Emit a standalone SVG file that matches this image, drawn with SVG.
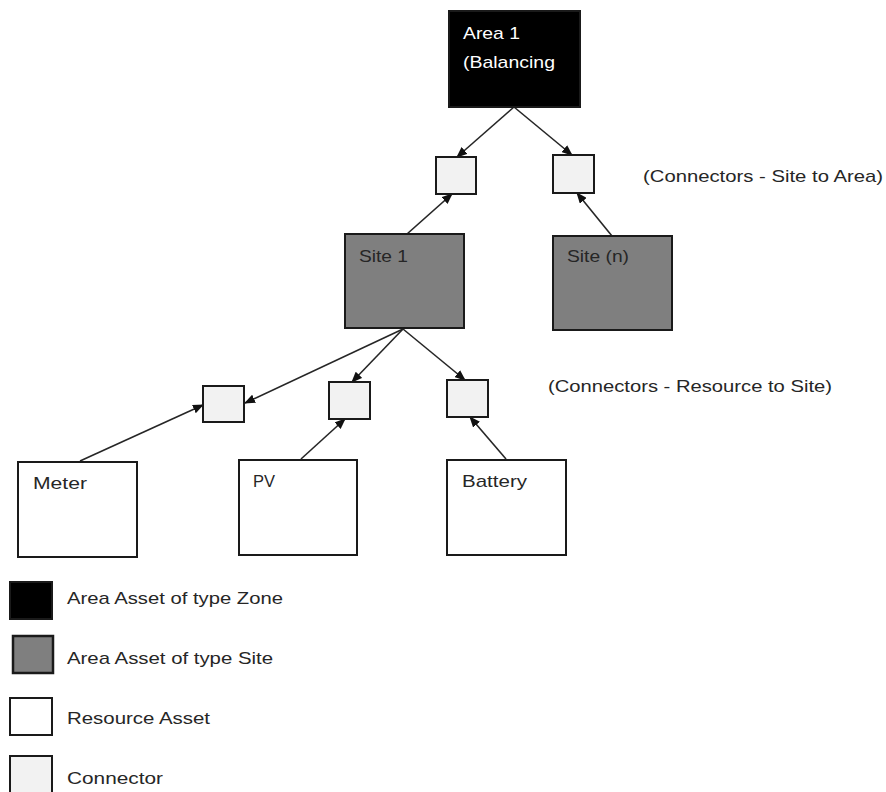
<svg xmlns="http://www.w3.org/2000/svg" width="886" height="792" viewBox="0 0 886 792">
<defs>
<style>
.box{stroke:#1a1a1a;stroke-width:2}
.zone{fill:#000}
.site{fill:#7f7f7f}
.res{fill:#fff}
.conn{fill:#f2f2f2}
.t{font-family:"Liberation Sans",Arial,sans-serif;font-size:17px;fill:#262626}
.w{fill:#fff}
.edge{stroke:#262626;stroke-width:1.6;fill:none;marker-end:url(#ah)}
</style>
<marker id="ah" markerUnits="userSpaceOnUse" markerWidth="11" markerHeight="9" refX="10" refY="4.5" orient="auto">
<path d="M0,0 L11,4.5 L0,9 z" fill="#111"/>
</marker>
</defs>
<rect width="886" height="792" fill="#fff"/>
<g id="connectors">
<line class="edge" x1="514" y1="107" x2="457" y2="157"/>
<line class="edge" x1="514" y1="107" x2="572" y2="155"/>
<line class="edge" x1="407" y1="234" x2="452" y2="194"/>
<line class="edge" x1="612" y1="236" x2="577" y2="193"/>
<line class="edge" x1="403" y1="329" x2="245" y2="403"/>
<line class="edge" x1="403" y1="329" x2="352" y2="382"/>
<line class="edge" x1="403" y1="329" x2="465" y2="380"/>
<line class="edge" x1="80" y1="461" x2="203" y2="405"/>
<line class="edge" x1="301" y1="459" x2="345" y2="419"/>
<line class="edge" x1="506" y1="459" x2="470" y2="417"/>
</g>
<g id="area1">
<rect class="box zone" x="449" y="11" width="131" height="96"/>
<text class="t w" x="463" y="39" textLength="57" lengthAdjust="spacingAndGlyphs">Area 1</text>
<text class="t w" x="463" y="68" textLength="92" lengthAdjust="spacingAndGlyphs">(Balancing</text>
</g>
<g id="conn-site1-area">
<rect class="box conn" x="436" y="157" width="40" height="37"/>
</g>
<g id="conn-siten-area">
<rect class="box conn" x="553" y="155" width="41" height="38"/>
</g>
<g id="site1">
<rect class="box site" x="345" y="234" width="119" height="94"/>
<text class="t" x="359" y="262" textLength="49" lengthAdjust="spacingAndGlyphs">Site 1</text>
</g>
<g id="siten">
<rect class="box site" x="553" y="236" width="119" height="94"/>
<text class="t" x="567" y="262" textLength="62" lengthAdjust="spacingAndGlyphs">Site (n)</text>
</g>
<g id="conn-meter">
<rect class="box conn" x="203" y="386" width="41" height="36"/>
</g>
<g id="conn-pv">
<rect class="box conn" x="329" y="382" width="41" height="37"/>
</g>
<g id="conn-battery">
<rect class="box conn" x="447" y="380" width="41" height="37"/>
</g>
<g id="meter">
<rect class="box res" x="18" y="462" width="119" height="95"/>
<text class="t" x="33" y="489" textLength="54" lengthAdjust="spacingAndGlyphs">Meter</text>
</g>
<g id="pv">
<rect class="box res" x="239" y="460" width="118" height="95"/>
<text class="t" x="253" y="487" textLength="22" lengthAdjust="spacingAndGlyphs">PV</text>
</g>
<g id="battery">
<rect class="box res" x="447" y="460" width="119" height="95"/>
<text class="t" x="462" y="487" textLength="65" lengthAdjust="spacingAndGlyphs">Battery</text>
</g>
<g id="label-site-area">
<text class="t" x="643" y="182" textLength="240" lengthAdjust="spacingAndGlyphs">(Connectors - Site to Area)</text>
</g>
<g id="label-resource-site">
<text class="t" x="548" y="392" textLength="284" lengthAdjust="spacingAndGlyphs">(Connectors - Resource to Site)</text>
</g>
<g id="legend">
<rect class="box zone" x="10" y="582" width="42" height="37"/>
<text class="t" x="67" y="604" textLength="216" lengthAdjust="spacingAndGlyphs">Area Asset of type Zone</text>
<rect class="site" x="13" y="636" width="40" height="37" stroke="#1a1a1a" stroke-width="2.5"/>
<text class="t" x="67" y="664" textLength="206" lengthAdjust="spacingAndGlyphs">Area Asset of type Site</text>
<rect class="box res" x="10" y="698" width="42" height="37"/>
<text class="t" x="67" y="724" textLength="143" lengthAdjust="spacingAndGlyphs">Resource Asset</text>
<rect class="box conn" x="10" y="756" width="42" height="40"/>
<text class="t" x="67" y="784" textLength="96" lengthAdjust="spacingAndGlyphs">Connector</text>
</g>
</svg>
